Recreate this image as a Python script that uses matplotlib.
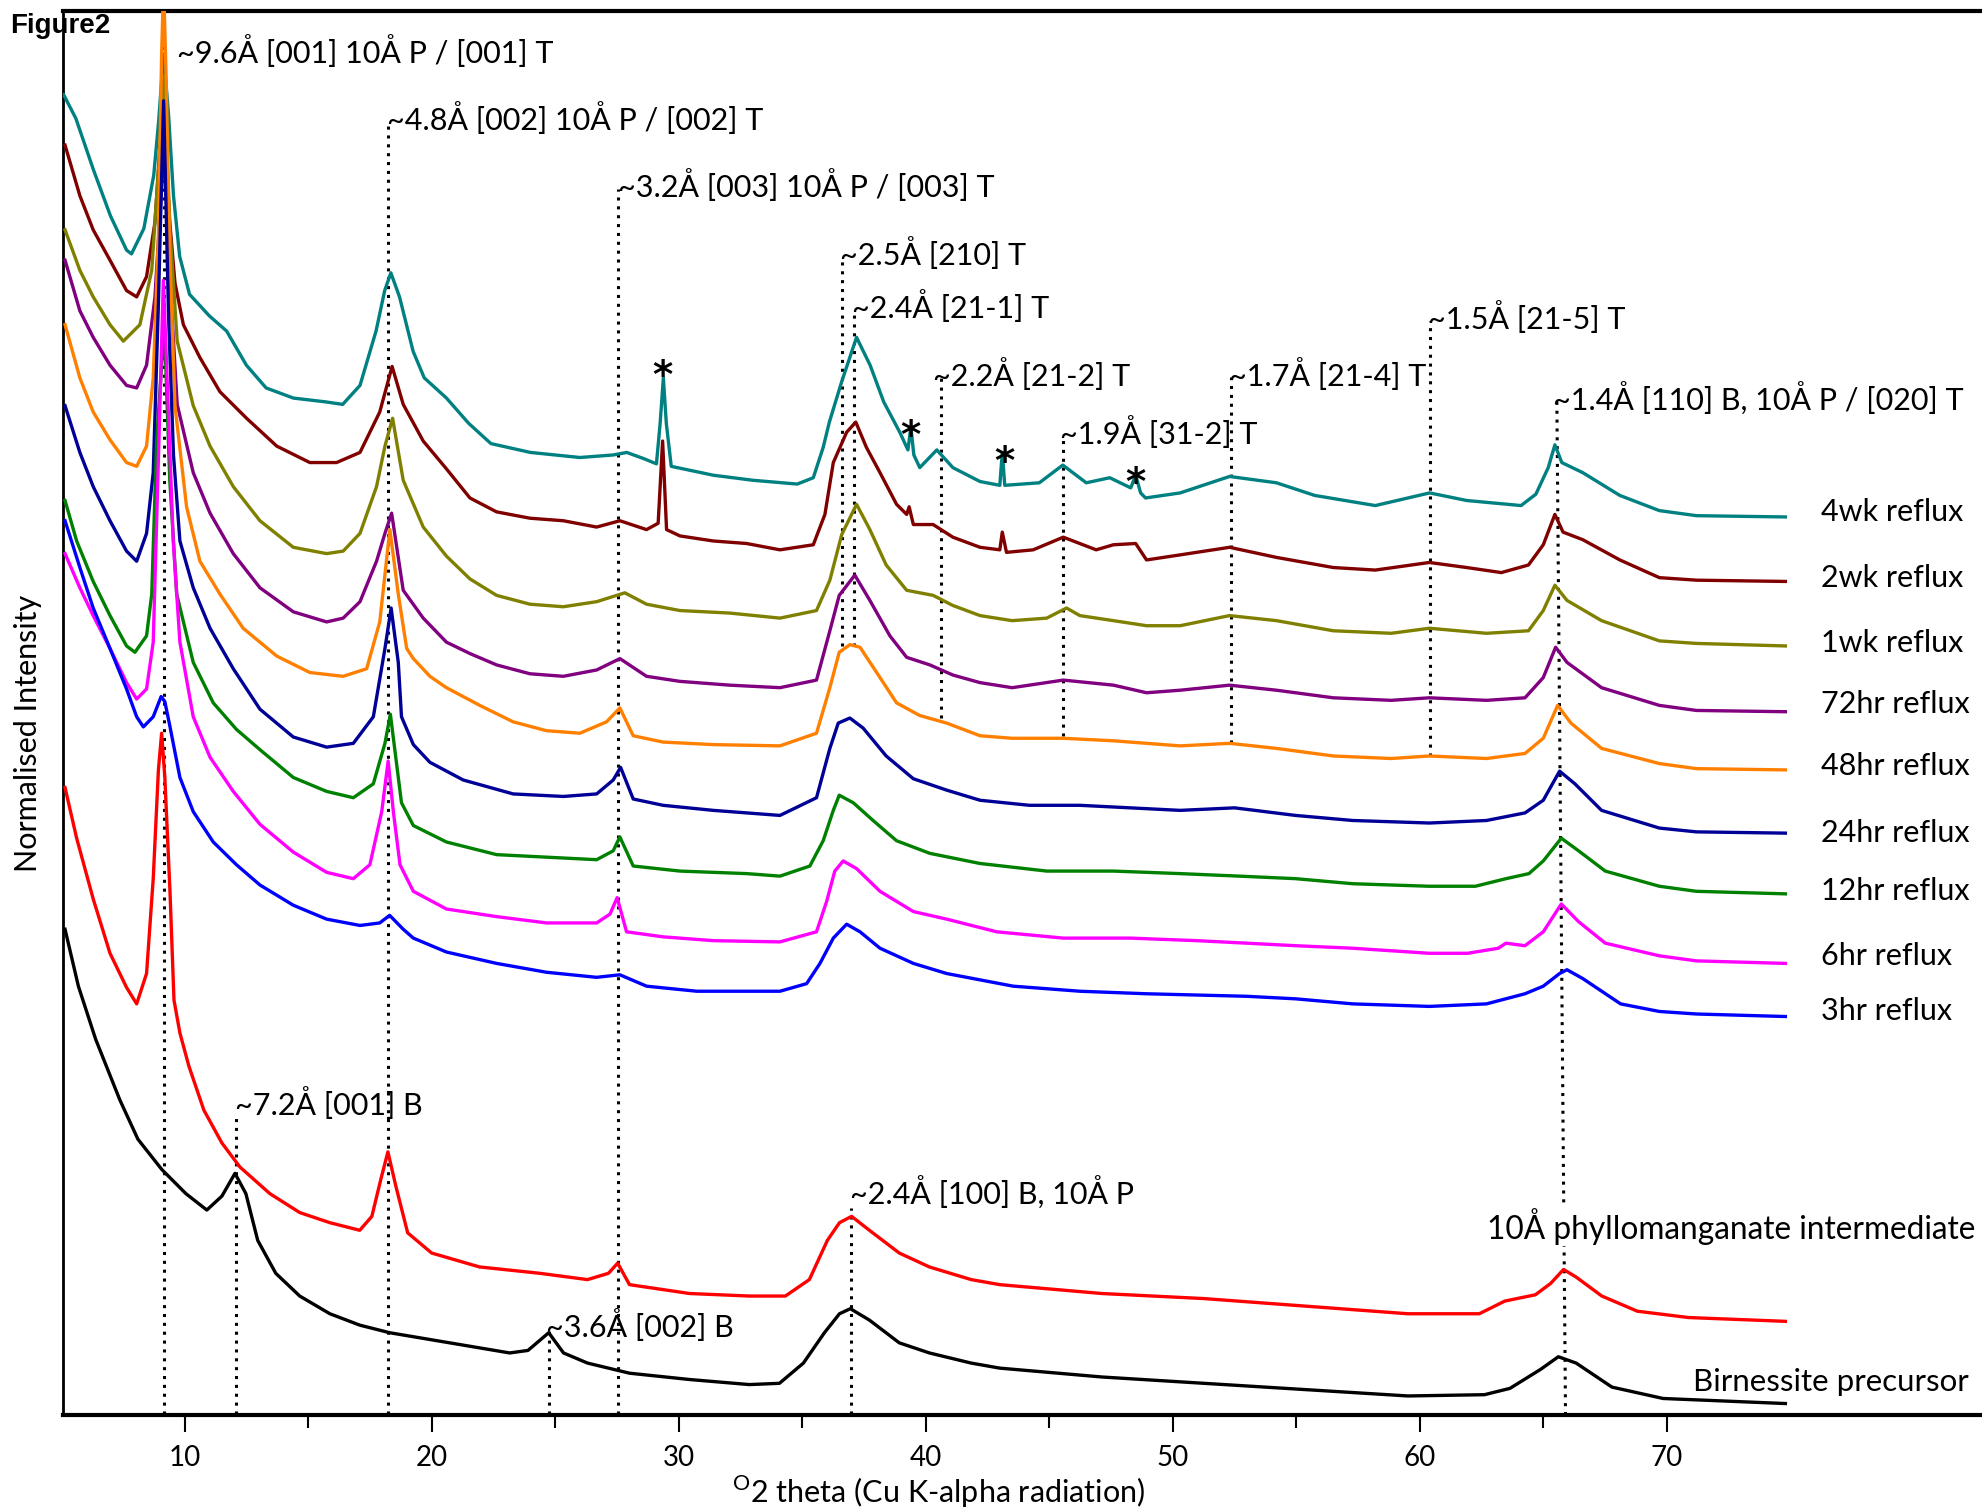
import matplotlib
matplotlib.use('Agg')
import matplotlib.pyplot as plt

plt.rcParams['font.family'] = ['Lato', 'DejaVu Sans']

# 2theta positions and stacked (offset) intensities, arbitrary units
x_4wk = [5.1, 5.6, 6.3, 7.0, 7.65, 7.85, 8.35, 8.75, 8.95, 9.15, 9.35, 9.55, 9.8, 10.2, 11.0, 11.7, 12.5, 13.3,
         14.4, 15.7, 16.4, 17.1, 17.75, 18.1, 18.35, 18.7, 19.25, 19.7, 20.6, 21.5, 22.4, 24.0, 26.0, 27.35, 27.9,
         28.6, 29.1, 29.25, 29.38, 29.5, 29.7, 31.4, 33.0, 34.8, 35.45, 35.85, 36.1, 36.6, 37.2, 37.75, 38.3, 38.95,
         39.28, 39.4, 39.52, 39.76, 40.45, 41.1, 42.2, 43.0, 43.1, 43.2, 44.6, 45.55, 46.5, 47.45, 48.3, 48.5, 48.7,
         48.9, 50.3, 52.3, 54.2, 55.75, 58.2, 60.4, 61.9, 64.1, 64.7, 65.2, 65.47, 65.75, 66.6, 68.1, 69.7, 71.2, 74.8]
y_4wk = [1043, 1024, 984, 947, 920, 917, 937, 979, 1022, 1075, 1027, 963, 915, 885, 868, 856, 829, 811,
         803, 800, 798, 813, 856, 888, 902, 883, 840, 819, 803, 783, 767, 760, 756, 758, 760,
         755, 751, 783, 819, 783, 749, 742, 738, 735, 740, 764, 784, 816, 851, 829, 800, 776,
         762, 780, 758, 748, 762, 748, 737, 734, 760, 734, 736, 750, 736, 740, 732, 742, 728,
         724, 728, 741, 736, 726, 718, 728, 722, 718, 727, 748, 766, 752, 744, 726, 714, 710, 709]

x_2wk = [5.16, 5.76, 6.3, 6.98, 7.65, 8.06, 8.46, 8.8, 9.0, 9.18, 9.4, 9.61, 9.95, 10.62, 11.43, 12.51, 13.73,
         15.07, 16.15, 17.1, 17.9, 18.4, 18.85, 19.66, 20.6, 21.55, 22.63, 23.98, 25.33, 26.68, 27.62, 28.7,
         29.17, 29.35, 29.51, 30.05, 31.4, 32.75, 34.1, 35.45, 35.92, 36.26, 36.8, 37.17, 37.6, 38.15, 38.82,
         39.23, 39.33, 39.5, 40.3, 41.1, 42.2, 43.0, 43.1, 43.27, 44.35, 45.57, 46.9, 47.6, 48.5, 48.94, 50.3,
         52.3, 54.2, 56.5, 58.2, 60.39, 61.9, 63.3, 64.4, 65.0, 65.47, 65.8, 66.6, 68.1, 69.7, 71.2, 74.8]
y_2wk = [1003, 963, 936, 912, 888, 883, 899, 942, 1000, 1023, 942, 894, 861, 835, 808, 787, 765,
         752, 752, 760, 792, 828, 798, 769, 747, 724, 713, 708, 706, 701, 706, 699,
         704, 769, 699, 694, 690, 688, 683, 687, 711, 752, 776, 784, 764, 744, 719,
         711, 717, 703, 703, 693, 685, 683, 697, 681, 683, 693, 683, 687, 688, 675, 679,
         685, 677, 669, 667, 673, 669, 665, 671, 687, 711, 697, 691, 675, 661, 659, 658]

x_1wk = [5.16, 5.76, 6.3, 6.98, 7.52, 8.19, 8.67, 8.94, 9.15, 9.4, 9.7, 10.35, 11.03, 11.97, 13.05, 14.4, 15.75,
         16.42, 17.1, 17.77, 18.11, 18.42, 18.85, 19.66, 20.6, 21.55, 22.63, 23.98, 25.33, 26.68, 27.82, 28.7,
         30.05, 32.07, 34.1, 35.58, 36.12, 36.6, 37.2, 37.74, 38.4, 39.23, 40.3, 41.1, 42.2, 43.5, 44.9, 45.7,
         46.24, 47.6, 48.94, 50.3, 52.3, 54.2, 56.5, 58.84, 60.39, 62.7, 64.4, 65.0, 65.47, 65.96, 67.36, 69.7,
         71.2, 74.8]
y_1wk = [936, 904, 883, 861, 848, 861, 904, 984, 1058, 938, 848, 797, 765, 733, 706, 685, 680,
         682, 696, 733, 765, 787, 738, 701, 678, 660, 647, 640, 638, 642, 649, 640,
         635, 633, 629, 635, 659, 695, 719, 699, 671, 651, 647, 639, 631, 627, 629, 637,
         631, 627, 623, 623, 631, 627, 619, 617, 621, 617, 619, 635, 655, 643, 627, 611,
         609, 607]

x_72hr = [5.16, 5.76, 6.3, 6.98, 7.65, 8.06, 8.46, 8.8, 9.0, 9.18, 9.4, 9.7, 10.35, 11.03, 11.97, 13.05, 14.4,
          15.75, 16.42, 17.1, 17.77, 18.11, 18.38, 18.85, 19.66, 20.6, 21.55, 22.63, 23.98, 25.33, 26.68, 27.62,
          28.7, 30.05, 32.07, 34.1, 35.58, 36.12, 36.5, 37.13, 37.74, 38.55, 39.23, 40.17, 41.1, 42.2, 43.5,
          45.57, 47.6, 48.94, 50.3, 52.3, 54.2, 56.5, 58.84, 60.39, 62.7, 64.26, 65.0, 65.5, 65.96, 67.36, 69.7,
          71.2, 74.8]
y_72hr = [912, 872, 851, 829, 813, 811, 829, 883, 947, 1003, 898, 798, 744, 712, 680, 653, 634,
          626, 629, 642, 674, 696, 712, 651, 629, 610, 601, 592, 585, 583, 588, 597,
          583, 579, 576, 574, 580, 619, 647, 663, 643, 615, 598, 592, 584, 578, 574,
          580, 576, 570, 572, 576, 572, 566, 564, 566, 564, 566, 582, 606, 594, 574, 560,
          556, 555]

x_48hr = [5.16, 5.76, 6.3, 6.98, 7.65, 8.06, 8.46, 8.73, 8.94, 9.07, 9.15, 9.25, 9.4, 9.61, 10.08, 10.62, 11.43,
          12.37, 13.73, 15.07, 16.42, 17.37, 17.9, 18.31, 18.65, 18.99, 19.26, 19.93, 20.6, 21.95, 23.3, 24.65,
          26.0, 27.08, 27.62, 28.16, 29.37, 31.4, 34.1, 35.58, 36.12, 36.5, 36.93, 37.34, 38.15, 38.82, 39.76,
          40.85, 42.2, 43.5, 45.57, 47.6, 50.3, 52.3, 54.2, 56.5, 58.84, 60.39, 62.7, 64.26, 65.0, 65.58, 66.12,
          67.36, 69.7, 71.2, 74.8]
y_48hr = [861, 819, 792, 770, 752, 749, 765, 819, 931, 1075, 1130, 1058, 918, 797, 717, 674, 648,
          621, 599, 586, 583, 589, 626, 699, 648, 605, 597, 583, 574, 560, 547, 540,
          538, 547, 558, 536, 531, 529, 528, 538, 574, 602, 608, 606, 582, 562, 552,
          546, 536, 534, 534, 532, 528, 530, 526, 520, 518, 520, 518, 522, 534, 560, 546,
          526, 514, 510, 509]

x_24hr = [5.16, 5.76, 6.3, 6.98, 7.65, 8.06, 8.46, 8.73, 8.94, 9.15, 9.35, 9.55, 9.81, 10.35, 11.03, 11.97, 13.05,
          14.4, 15.75, 16.83, 17.64, 18.11, 18.36, 18.65, 18.78, 19.26, 19.93, 21.28, 23.3, 25.33, 26.68, 27.35,
          27.65, 28.16, 29.37, 31.4, 34.1, 35.58, 36.12, 36.46, 36.93, 37.47, 38.4, 39.5, 40.85, 42.2, 44.2,
          46.24, 48.27, 50.3, 52.5, 54.97, 57.29, 60.39, 62.7, 64.26, 65.0, 65.66, 66.28, 67.36, 69.7, 71.2, 74.8]
y_24hr = [797, 760, 733, 706, 682, 674, 696, 744, 878, 1038, 868, 758, 690, 653, 621, 589, 557,
          535, 527, 530, 551, 605, 637, 594, 551, 529, 515, 501, 490, 488, 490, 501,
          511, 486, 481, 477, 473, 487, 526, 546, 550, 542, 520, 502, 493, 485, 481,
          481, 479, 477, 479, 473, 469, 467, 469, 475, 485, 508, 498, 477, 463, 460, 459]

x_12hr = [5.16, 5.63, 6.3, 6.98, 7.65, 7.99, 8.46, 8.67, 8.87, 9.18, 9.4, 9.68, 10.35, 11.16, 12.1, 13.05, 14.4,
          15.75, 16.83, 17.64, 18.11, 18.33, 18.58, 18.78, 19.26, 20.6, 22.63, 24.65, 26.68, 27.35, 27.62, 28.16,
          30.05, 32.75, 34.1, 35.31, 35.85, 36.26, 36.5, 37.07, 37.87, 38.82, 40.17, 42.2, 44.9, 47.6, 50.3,
          52.7, 54.97, 57.29, 60.39, 62.25, 63.49, 64.42, 65.0, 65.73, 66.43, 67.51, 69.7, 71.2, 74.8]
y_12hr = [722, 690, 658, 631, 607, 602, 615, 648, 770, 861, 738, 648, 594, 562, 541, 525, 503,
          492, 487, 498, 530, 553, 514, 483, 465, 452, 442, 440, 438, 445, 456, 433,
          429, 427, 425, 433, 453, 477, 489, 483, 469, 453, 443, 435, 429, 429, 427,
          425, 423, 419, 417, 417, 423, 427, 437, 455, 445, 429, 417, 413, 411]

x_6hr = [5.16, 5.76, 6.3, 6.98, 7.65, 8.06, 8.46, 8.73, 9.0, 9.14, 9.35, 9.54, 9.81, 10.35, 11.03, 11.97, 13.05,
         14.4, 15.75, 16.83, 17.5, 17.98, 18.24, 18.45, 18.72, 19.26, 20.6, 22.63, 24.65, 26.68, 27.22, 27.51,
         27.89, 29.37, 31.4, 34.1, 35.58, 35.99, 36.32, 36.66, 37.2, 38.15, 39.5, 40.85, 42.87, 45.57, 48.27,
         50.96, 52.99, 54.97, 57.29, 60.39, 61.94, 63.18, 63.49, 64.26, 65.0, 65.73, 66.43, 67.51, 69.7, 71.2,
         74.8]
y_6hr = [680, 653, 631, 605, 578, 565, 573, 610, 797, 896, 788, 690, 610, 551, 519, 492, 466,
         444, 428, 423, 434, 476, 516, 476, 434, 413, 399, 393, 388, 388, 395, 408,
         381, 377, 374, 373, 381, 405, 429, 437, 431, 413, 397, 391, 381, 376, 376,
         374, 372, 370, 368, 364, 364, 368, 372, 370, 381, 403, 389, 372, 362, 358,
         356]

x_3hr = [5.16, 5.76, 6.3, 6.98, 7.65, 8.06, 8.33, 8.73, 9.05, 9.2, 9.41, 9.81, 10.35, 11.16, 12.1, 13.05, 14.4,
         15.75, 17.1, 17.9, 18.3, 18.85, 19.26, 20.6, 22.63, 24.65, 26.68, 27.62, 28.7, 30.73, 32.75, 34.1,
         35.18, 35.72, 36.26, 36.8, 37.34, 38.15, 39.5, 40.85, 43.54, 46.24, 48.94, 52.99, 54.97, 57.29, 60.39,
         62.7, 64.26, 65.0, 65.66, 65.96, 66.6, 68.13, 69.7, 71.2, 74.8]
y_3hr = [706, 669, 637, 605, 573, 551, 543, 551, 567, 563, 543, 503, 476, 452, 434, 418, 402,
         391, 386, 388, 394, 383, 376, 365, 356, 349, 345, 347, 338, 334, 334, 334,
         340, 356, 376, 387, 381, 368, 356, 348, 338, 334, 332, 330, 328, 324, 322,
         324, 332, 338, 348, 351, 344, 324, 318, 316, 314]

x_10A = [5.16, 5.63, 6.3, 6.98, 7.65, 8.06, 8.46, 8.73, 8.94, 9.07, 9.2, 9.41, 9.57, 9.81, 10.17, 10.78, 11.51,
         12.24, 13.45, 14.66, 15.88, 17.09, 17.58, 17.94, 18.23, 18.55, 19.03, 20.0, 21.94, 24.37, 26.31, 27.16,
         27.53, 28.01, 30.44, 32.86, 34.32, 35.29, 36.02, 36.51, 37.0, 37.72, 38.93, 40.15, 41.84, 43.0, 47.13,
         51.26, 55.39, 59.52, 62.41, 63.44, 64.68, 65.3, 65.82, 66.33, 67.37, 68.81, 70.88, 74.8]
y_10A = [495, 455, 407, 364, 337, 324, 348, 423, 509, 538, 503, 412, 327, 301, 275, 240, 214,
         195, 174, 159, 151, 145, 156, 185, 207, 180, 143, 127, 116, 111, 106, 111,
         119, 102, 95, 93, 93, 106, 137, 151, 156, 145, 127, 116, 106, 102, 95,
         91, 85, 79, 79, 89, 94, 103, 114, 108, 93, 81, 76, 73]

x_bir = [5.16, 5.7, 6.4, 7.38, 8.11, 9.08, 10.05, 10.9, 11.51, 12.04, 12.48, 12.96, 13.69, 14.66, 15.88, 17.09,
         18.3, 20.73, 23.16, 23.9, 24.74, 25.34, 26.31, 28.01, 30.44, 32.86, 34.08, 35.05, 35.9, 36.51, 36.95,
         37.72, 38.93, 40.15, 41.84, 43.0, 47.13, 51.26, 55.39, 59.52, 62.62, 63.65, 64.89, 65.61, 66.33, 67.78,
         69.85, 74.8]
y_bir = [383, 338, 296, 248, 217, 193, 174, 161, 172, 190, 174, 137, 111, 93, 79, 70,
         64, 56, 48, 50, 64, 48, 40, 32, 27, 23, 24, 40, 64, 79, 83,
         74, 56, 48, 40, 36, 29, 24, 19, 14, 15, 20, 35, 45, 40, 21,
         12, 8]

series = [
    ('4wk reflux', x_4wk, y_4wk, '#008080', 713),
    ('2wk reflux', x_2wk, y_2wk, '#800000', 661),
    ('1wk reflux', x_1wk, y_1wk, '#808000', 609),
    ('72hr reflux', x_72hr, y_72hr, '#800080', 561),
    ('48hr reflux', x_48hr, y_48hr, '#FF8000', 512),
    ('24hr reflux', x_24hr, y_24hr, '#000096', 459),
    ('12hr reflux', x_12hr, y_12hr, '#008000', 413),
    ('6hr reflux', x_6hr, y_6hr, '#FF00FF', 362),
    ('3hr reflux', x_3hr, y_3hr, '#0000FF', 318),
]

# reflection markers: (2theta, top, bottom)
markers = [(9.18, 1109, 0), (12.1, 234, 0), (18.25, 1022, 0), (24.74, 66, 0), (27.56, 968, 0),
           (36.62, 913, 607), (37.1, 870, 607), (40.6, 819, 550), (45.55, 773, 536), (52.35, 820, 530),
           (60.4, 864, 520), (36.98, 163, 0)]

peak_labels = [
    ('~9.6Å [001] 10Å P / [001] T', 9.69, 1077),
    ('~4.8Å [002] 10Å P / [002] T', 18.19, 1024),
    ('~3.2Å [003] 10Å P / [003] T', 27.56, 971),
    ('~2.5Å [210] T', 36.52, 917),
    ('~2.4Å [21-1] T', 37.03, 875),
    ('~2.2Å [21-2] T', 40.3, 822),
    ('~1.9Å [31-2] T', 45.42, 776),
    ('~1.7Å [21-4] T', 52.28, 822),
    ('~1.5Å [21-5] T', 60.32, 867),
    ('~1.4Å [110] B, 10Å P / [020] T', 65.39, 803),
    ('~7.2Å [001] B', 12.05, 245),
    ('~2.4Å [100] B, 10Å P', 36.93, 175),
    ('~3.6Å [002] B', 24.64, 70),
]

impurity = [(29.35, 820), (39.38, 772), (43.17, 752), (48.5, 735)]

fig = plt.figure(figsize=(19.83, 15.12), dpi=100)
ax = fig.add_axes([0.0318, 0.0642, 0.9682, 0.9285])

dot = (0, (1, 1.9))
for x0, top, bot in markers:
    ax.plot([x0, x0], [bot, top], color='black', lw=2.2, linestyle=dot, zorder=1)
ax.plot([65.55, 65.9], [800, 0], color='black', lw=2.2, linestyle=dot, zorder=1)

for name, xs, ys, col, ylab in series:
    ax.plot(xs, ys, color=col, lw=2.4, zorder=3)
    ax.text(76.24, ylab, name, fontsize=22, ha='left', va='center')

ax.plot(x_10A, y_10A, color='#FF0000', lw=2.4, zorder=3)
ax.plot(x_bir, y_bir, color='black', lw=2.4, zorder=3)

for txt, x0, y0 in peak_labels:
    ax.text(x0, y0, txt, fontsize=22, ha='left', va='center')
for x0, y0 in impurity:
    ax.text(x0, y0, '*', fontsize=28, fontweight='bold', family='DejaVu Sans', ha='center', va='center')

ax.text(82.49, 148, '10Å phyllomanganate intermediate', fontsize=22.8, ha='right', va='center',
        bbox=dict(facecolor='white', edgecolor='none', pad=1), zorder=4)
ax.text(82.23, 25, 'Birnessite precursor', fontsize=22.5, ha='right', va='center', zorder=4)

ax.set_xlim(5.08, 82.8)
ax.set_ylim(-1, 1109)
ax.set_xticks(range(10, 80, 10))
ax.set_xticks(range(15, 70, 10), minor=True)
ax.tick_params(axis='x', which='major', direction='out', length=12, width=1.5, labelsize=20, pad=10)
ax.tick_params(axis='x', which='minor', direction='out', length=9, width=1.5)
ax.set_yticks([])
ax.spines['right'].set_visible(False)
ax.spines['top'].set_linewidth(3)
ax.spines['bottom'].set_linewidth(3)
ax.spines['left'].set_linewidth(2)

fig.text(0.0141, 0.515, 'Normalised Intensity', fontsize=22, rotation=90, ha='center', va='center')
fig.text(0.4732, 0.013, r'$^\mathregular{O}$2 theta (Cu K-alpha radiation)', fontsize=22,
         ha='center', va='center')
fig.text(0.005, 0.983, 'Figure2', fontsize=20, fontweight='bold', family='Liberation Sans',
         ha='left', va='center')

fig.savefig('out.png', dpi=100)
